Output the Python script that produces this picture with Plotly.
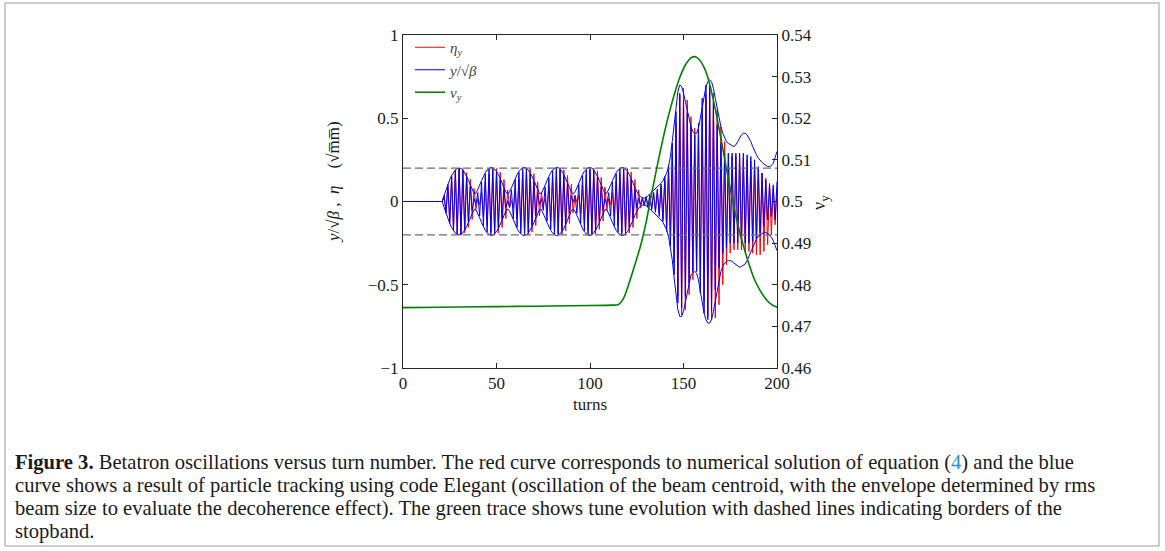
import plotly.graph_objects as go

# ---------------- data ----------------
turns = list(range(201))

# blue: particle tracking (Elegant), beam centroid y/sqrt(beta), one value per turn
blue_y = [
    0, 0, 0, 0, 0, 0, 0, 0, 0, 0,
    0, 0, 0, 0, 0, 0, 0, 0, 0, 0,
    0, 0, 0.036, -0.070, 0.103, -0.132, 0.156, -0.176, 0.190, -0.198,
    0.200, -0.195, 0.184, -0.167, 0.145, -0.118, 0.087, -0.053, 0.018, -0.018,
    0.053, -0.087, 0.118, -0.145, 0.167, -0.184, 0.195, -0.200, 0.198, -0.190,
    0.176, -0.156, 0.132, -0.103, 0.070, -0.036, 0.005, -0.036, 0.070, -0.103,
    0.132, -0.156, 0.176, -0.190, 0.198, -0.200, 0.195, -0.184, 0.167, -0.145,
    0.118, -0.087, 0.053, -0.018, 0.018, -0.053, 0.087, -0.118, 0.145, -0.167,
    0.184, -0.195, 0.200, -0.198, 0.190, -0.176, 0.156, -0.132, 0.103, -0.070,
    0.036, -0.005, 0.036, -0.070, 0.103, -0.132, 0.156, -0.176, 0.190, -0.198,
    0.200, -0.195, 0.184, -0.167, 0.145, -0.118, 0.087, -0.053, 0.018, -0.018,
    0.053, -0.087, 0.118, -0.145, 0.167, -0.184, 0.195, -0.200, 0.198, -0.190,
    0.176, -0.156, 0.132, -0.103, 0.070, -0.040, 0.020, -0.020, 0.022, -0.025,
    0.030, -0.035, 0.040, -0.050, 0.055, -0.065, 0.075, -0.090, 0.105, -0.120,
    0.150, -0.180, 0.220, -0.270, 0.350, -0.440, 0.540, -0.610, 0.650, -0.640,
    0.610, -0.570, 0.530, -0.490, 0.450, -0.420, 0.400, -0.420, 0.470, -0.550,
    0.620, -0.670, 0.700, -0.710, 0.700, -0.660, 0.600, -0.530, 0.460, -0.400,
    0.350, -0.310, 0.290, -0.280, 0.290, -0.250, 0.290, -0.250, 0.290, -0.250,
    0.290, -0.250, 0.290, -0.250, 0.280, -0.250, 0.270, -0.240, 0.250, -0.220,
    0.210, -0.190, 0.170, -0.150, 0.130, -0.110, 0.100, -0.090, 0.100, -0.110,
    0.120,
]

# red: numerical solution eta_y, one value per turn
red_y = [
    0, 0, 0, 0, 0, 0, 0, 0, 0, 0,
    0, 0, 0, 0, 0, 0, 0, 0, 0, 0,
    0, 0, 0.032, -0.063, 0.093, -0.120, 0.144, -0.165, 0.181, -0.192,
    0.199, -0.200, 0.196, -0.187, 0.173, -0.155, 0.133, -0.107, 0.078, -0.048,
    0.016, -0.018, 0.053, -0.087, 0.118, -0.145, 0.167, -0.184, 0.195, -0.200,
    0.198, -0.190, 0.176, -0.156, 0.132, -0.103, 0.070, -0.036, 0.005, -0.036,
    0.070, -0.103, 0.132, -0.156, 0.176, -0.190, 0.198, -0.200, 0.195, -0.184,
    0.167, -0.145, 0.118, -0.087, 0.053, -0.018, 0.018, -0.053, 0.087, -0.118,
    0.145, -0.167, 0.184, -0.195, 0.200, -0.198, 0.190, -0.176, 0.156, -0.132,
    0.103, -0.070, 0.036, -0.005, 0.036, -0.070, 0.103, -0.132, 0.156, -0.176,
    0.190, -0.198, 0.200, -0.195, 0.184, -0.167, 0.145, -0.118, 0.087, -0.053,
    0.018, -0.018, 0.053, -0.087, 0.118, -0.145, 0.167, -0.184, 0.195, -0.200,
    0.198, -0.190, 0.176, -0.156, 0.132, -0.103, 0.070, -0.040, 0.020, -0.020,
    0.025, -0.030, 0.035, -0.040, 0.050, -0.055, 0.065, -0.075, 0.090, -0.105,
    0.125, -0.150, 0.180, -0.230, 0.290, -0.370, 0.470, -0.570, 0.640, -0.680,
    0.680, -0.650, 0.610, -0.560, 0.510, -0.470, 0.440, -0.420, 0.430, -0.470,
    0.530, -0.600, 0.640, -0.690, 0.680, -0.710, 0.650, -0.700, 0.550, -0.620,
    0.450, -0.500, 0.360, -0.380, 0.290, -0.310, 0.270, -0.290, 0.270, -0.290,
    0.270, -0.290, 0.260, -0.300, 0.250, -0.300, 0.240, -0.310, 0.220, -0.320,
    0.200, -0.320, 0.170, -0.300, 0.140, -0.260, 0.110, -0.200, 0.080, -0.140,
    0.070,
]

# blue envelope (rms beam size), upper and lower
env_upper = [
    0, 0, 0, 0, 0, 0, 0, 0, 0, 0,
    0, 0, 0, 0, 0, 0, 0, 0, 0, 0,
    0, 0, 0.036, 0.070, 0.103, 0.132, 0.156, 0.176, 0.190, 0.198,
    0.200, 0.200, 0.189, 0.173, 0.152, 0.126, 0.098, 0.070, 0.049, 0.049,
    0.070, 0.098, 0.126, 0.152, 0.173, 0.189, 0.200, 0.205, 0.203, 0.195,
    0.182, 0.162, 0.140, 0.112, 0.083, 0.058, 0.045, 0.058, 0.083, 0.112,
    0.140, 0.162, 0.182, 0.195, 0.203, 0.205, 0.200, 0.189, 0.173, 0.152,
    0.126, 0.098, 0.070, 0.049, 0.049, 0.070, 0.098, 0.126, 0.152, 0.173,
    0.189, 0.200, 0.205, 0.203, 0.195, 0.182, 0.162, 0.140, 0.112, 0.083,
    0.058, 0.045, 0.058, 0.083, 0.112, 0.140, 0.162, 0.182, 0.195, 0.203,
    0.205, 0.200, 0.189, 0.173, 0.152, 0.126, 0.098, 0.070, 0.049, 0.049,
    0.070, 0.098, 0.126, 0.152, 0.173, 0.189, 0.200, 0.205, 0.203, 0.195,
    0.182, 0.162, 0.140, 0.112, 0.083, 0.058, 0.040, 0.030, 0.022, 0.020,
    0.025, 0.035, 0.045, 0.055, 0.065, 0.075, 0.085, 0.095, 0.110, 0.125,
    0.145, 0.170, 0.210, 0.270, 0.360, 0.470, 0.580, 0.660, 0.700, 0.690,
    0.650, 0.600, 0.540, 0.490, 0.450, 0.420, 0.410, 0.410, 0.440, 0.500,
    0.570, 0.640, 0.690, 0.720, 0.730, 0.720, 0.680, 0.620, 0.560, 0.500,
    0.450, 0.410, 0.380, 0.360, 0.350, 0.340, 0.335, 0.330, 0.340, 0.360,
    0.380, 0.400, 0.410, 0.410, 0.400, 0.380, 0.360, 0.330, 0.300, 0.280,
    0.260, 0.245, 0.235, 0.225, 0.215, 0.210, 0.210, 0.215, 0.230, 0.260,
    0.300,
]

env_lower = [
    0, 0, 0, 0, 0, 0, 0, 0, 0, 0,
    0, 0, 0, 0, 0, 0, 0, 0, 0, 0,
    0, 0, -0.036, -0.070, -0.103, -0.132, -0.156, -0.176, -0.190, -0.198,
    -0.200, -0.200, -0.189, -0.173, -0.152, -0.126, -0.098, -0.070, -0.049, -0.049,
    -0.070, -0.098, -0.126, -0.152, -0.173, -0.189, -0.200, -0.205, -0.203, -0.195,
    -0.182, -0.162, -0.140, -0.112, -0.083, -0.058, -0.045, -0.058, -0.083, -0.112,
    -0.140, -0.162, -0.182, -0.195, -0.203, -0.205, -0.200, -0.189, -0.173, -0.152,
    -0.126, -0.098, -0.070, -0.049, -0.049, -0.070, -0.098, -0.126, -0.152, -0.173,
    -0.189, -0.200, -0.205, -0.203, -0.195, -0.182, -0.162, -0.140, -0.112, -0.083,
    -0.058, -0.045, -0.058, -0.083, -0.112, -0.140, -0.162, -0.182, -0.195, -0.203,
    -0.205, -0.200, -0.189, -0.173, -0.152, -0.126, -0.098, -0.070, -0.049, -0.049,
    -0.070, -0.098, -0.126, -0.152, -0.173, -0.189, -0.200, -0.205, -0.203, -0.195,
    -0.182, -0.162, -0.140, -0.112, -0.083, -0.058, -0.040, -0.030, -0.022, -0.020,
    -0.025, -0.035, -0.045, -0.055, -0.065, -0.075, -0.085, -0.095, -0.110, -0.125,
    -0.145, -0.170, -0.210, -0.270, -0.350, -0.460, -0.570, -0.650, -0.690, -0.690,
    -0.660, -0.600, -0.540, -0.480, -0.440, -0.430, -0.420, -0.430, -0.470, -0.540,
    -0.610, -0.670, -0.710, -0.730, -0.730, -0.710, -0.660, -0.600, -0.530, -0.470,
    -0.420, -0.390, -0.370, -0.360, -0.355, -0.355, -0.360, -0.370, -0.380, -0.390,
    -0.395, -0.390, -0.385, -0.375, -0.355, -0.330, -0.300, -0.270, -0.245, -0.225,
    -0.210, -0.200, -0.190, -0.185, -0.185, -0.190, -0.200, -0.215, -0.235, -0.265,
    -0.295,
]

# green: tune nu_y (right axis)
green_turns = [0, 20, 40, 60, 80, 100, 112, 115, 118, 121, 124, 127, 130, 133,
               136, 139, 142, 145, 148, 151, 154, 156, 158, 161, 164, 167, 170,
               173, 176, 179, 182, 185, 188, 191, 194, 197, 200]
green_nu = [0.4745, 0.4746, 0.4747, 0.4748, 0.4749, 0.4750, 0.4751, 0.4752,
            0.4768, 0.4805, 0.4848, 0.4893, 0.4950, 0.5020, 0.5087, 0.5150,
            0.5207, 0.5256, 0.5298, 0.5328, 0.5345, 0.5348, 0.5343, 0.5322,
            0.5282, 0.5222, 0.5152, 0.5078, 0.5008, 0.4946, 0.4894, 0.4850,
            0.4812, 0.4786, 0.4766, 0.4753, 0.4746]

# stopband borders (dashed)
stop_turns = [0, 200]
stop_upper = [0.2, 0.2]
stop_lower = [-0.2, -0.2]

# axis ticks
x_ticks = [0, 50, 100, 150, 200]
y_ticks = [-1, -0.5, 0, 0.5, 1]
y_ticktext = ["\u22121", "\u22120.5", "0", "0.5", "1"]
y2_ticks = [0.46, 0.47, 0.48, 0.49, 0.50, 0.51, 0.52, 0.53, 0.54]
y2_ticktext = ["0.46", "0.47", "0.48", "0.49", "0.5", "0.51", "0.52", "0.53", "0.54"]

caption_lines = [
    "<b>Figure 3.</b> Betatron oscillations versus turn number. The red curve corresponds to numerical solution of equation (<span style='color:#2b8fd1'>4</span>) and the blue",
    "curve shows a result of particle tracking using code Elegant (oscillation of the beam centroid, with the envelope determined by rms",
    "beam size to evaluate the decoherence effect). The green trace shows tune evolution with dashed lines indicating borders of the",
    "stopband.",
]

# ---------------- figure ----------------
SERIF = "Liberation Serif"
W, H = 1165, 551
L_PX, R_PX, T_PX, B_PX = 403, 777, 35, 368


def px_x(px):
    return (px - L_PX) / (R_PX - L_PX)


def px_y(py):
    return (B_PX - py) / (B_PX - T_PX)


fig = go.Figure()
fig.add_trace(go.Scatter(x=turns, y=red_y, mode="lines",
                         line=dict(color="#ff0000", width=1),
                         name="<i>η</i><sub><i>y</i></sub>"))
fig.add_trace(go.Scatter(x=turns, y=blue_y, mode="lines",
                         line=dict(color="#0000ff", width=1),
                         name="<i>y</i>/√<i>β</i>"))
fig.add_trace(go.Scatter(x=turns, y=env_upper, mode="lines",
                         line=dict(color="#0000ff", width=1), showlegend=False))
fig.add_trace(go.Scatter(x=turns, y=env_lower, mode="lines",
                         line=dict(color="#0000ff", width=1), showlegend=False))
fig.add_trace(go.Scatter(x=stop_turns, y=stop_upper, mode="lines",
                         line=dict(color="#6e6e6e", width=1.2, dash="8px,4px"),
                         showlegend=False))
fig.add_trace(go.Scatter(x=stop_turns, y=stop_lower, mode="lines",
                         line=dict(color="#6e6e6e", width=1.2, dash="8px,4px"),
                         showlegend=False))
fig.add_trace(go.Scatter(x=green_turns, y=green_nu, mode="lines", yaxis="y2",
                         line=dict(color="#008000", width=1.6, shape="spline",
                                   smoothing=0.6),
                         name="<i>ν</i><sub><i>y</i></sub>"))

tickfont = dict(family=SERIF, size=17, color="#1a1a1a")
axis_common = dict(showgrid=False, zeroline=False, showline=True,
                   linecolor="#262626", linewidth=1, ticks="inside",
                   ticklen=5, tickcolor="#262626", tickfont=tickfont)

annotations = []
caption_y = [462, 485, 508, 531]
for text, py in zip(caption_lines, caption_y):
    annotations.append(dict(xref="paper", yref="paper", x=px_x(13), y=px_y(py),
                            xanchor="left", yanchor="middle", showarrow=False,
                            text=text, align="left",
                            font=dict(family=SERIF, size=20.6, color="#1a1a1a")))
annotations.append(dict(xref="paper", yref="paper", x=0.5, y=px_y(404),
                        xanchor="center", yanchor="middle", showarrow=False,
                        text="turns", font=dict(family=SERIF, size=17, color="#1a1a1a")))
annotations.append(dict(xref="paper", yref="paper", x=px_x(333), y=px_y(182),
                        xanchor="center", yanchor="middle", showarrow=False,
                        textangle=-90,
                        text="<i>y</i>/√<i>β</i> ,  <i>η</i>    (√m\u0305m\u0305)",
                        font=dict(family=SERIF, size=17, color="#1a1a1a")))
annotations.append(dict(xref="paper", yref="paper", x=px_x(821), y=px_y(203),
                        xanchor="center", yanchor="middle", showarrow=False,
                        textangle=-90,
                        text="ν<sub>y</sub>",
                        font=dict(family=SERIF, size=18, color="#1a1a1a")))

fig.update_layout(
    width=W, height=H,
    margin=dict(l=L_PX, r=W - R_PX, t=T_PX, b=H - B_PX, pad=0),
    paper_bgcolor="white", plot_bgcolor="white",
    font=dict(family=SERIF, color="#1a1a1a"),
    xaxis=dict(range=[0, 200], tickvals=x_ticks, mirror="ticks", **axis_common),
    yaxis=dict(range=[-1, 1], tickvals=y_ticks, ticktext=y_ticktext, **axis_common),
    yaxis2=dict(range=[0.46, 0.54], tickvals=y2_ticks, ticktext=y2_ticktext,
                overlaying="y", side="right", anchor="x", **axis_common),
    legend=dict(x=px_x(410), y=px_y(31), xanchor="left", yanchor="top",
                bgcolor="rgba(0,0,0,0)", itemwidth=30, tracegroupgap=0,
                font=dict(family=SERIF, size=15, color="#444444")),
    annotations=annotations,
    shapes=[dict(type="rect", xref="paper", yref="paper",
                 x0=px_x(5), x1=px_x(1159), y0=px_y(546), y1=px_y(3),
                 line=dict(color="#9a9a9a", width=1), fillcolor="rgba(0,0,0,0)",
                 layer="below")],
    showlegend=True,
)

fig.write_html("out.html",
               config={"displayModeBar": False},
               post_script="document.body.style.margin='0px';"
                           "document.documentElement.style.overflow='hidden';")
